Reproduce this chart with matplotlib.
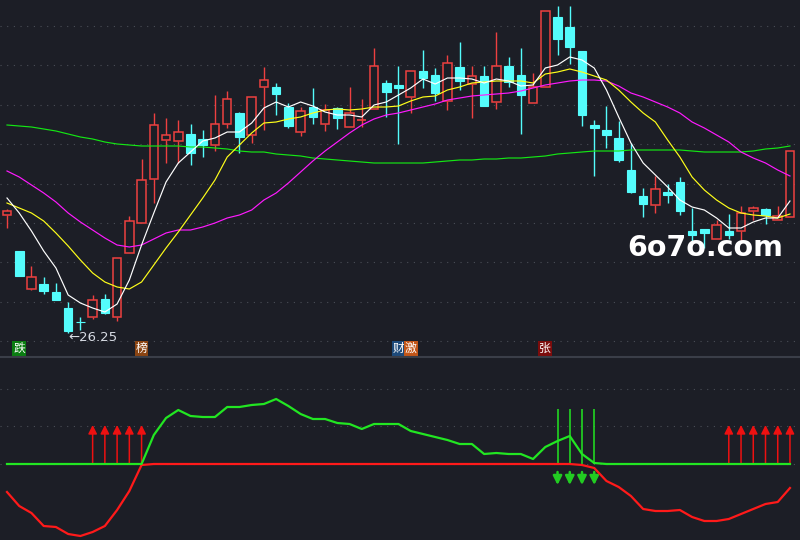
import matplotlib.pyplot as plt
import numpy as np
from matplotlib.patches import Rectangle
from matplotlib.transforms import blended_transform_factory

plt.rcParams['font.family'] = ['Noto Sans CJK SC', 'DejaVu Sans']

BG = '#1c1e26'
UP = '#ee4040'
DOWN = '#54fcfc'
GRID = '#4a4e57'

# daily K-line data (65 sessions)
opens = [32.15, 30.35, 28.45, 28.70, 28.30, 27.50, 26.82, 27.05, 27.95, 27.05,
         30.25, 31.75, 33.95, 35.90, 35.85, 36.20, 35.95, 35.65, 36.70, 37.25,
         36.15, 38.55, 38.55, 37.55, 36.30, 37.55, 36.70, 37.50, 36.55, 36.90,
         37.45, 38.75, 38.65, 38.05, 39.35, 39.15, 37.85, 39.55, 38.70, 39.10,
         37.80, 39.60, 39.15, 37.75, 38.55, 42.05, 41.55, 40.35, 36.65, 36.40,
         36.00, 34.40, 33.10, 32.65, 33.30, 33.80, 31.35, 31.45, 30.95, 31.35,
         31.35, 32.35, 32.45, 31.90, 32.05]
closes = [32.35, 29.10, 29.05, 28.35, 27.90, 26.35, 26.80, 27.90, 27.25, 30.00,
          31.85, 33.90, 36.65, 36.15, 36.30, 35.25, 35.65, 36.70, 37.95, 36.05,
          38.05, 38.90, 38.20, 36.60, 37.35, 37.05, 37.40, 37.00, 37.25, 36.90,
          39.60, 38.30, 38.50, 39.35, 39.00, 38.25, 39.75, 38.85, 39.10, 37.60,
          39.60, 38.80, 38.15, 38.55, 42.35, 40.95, 40.55, 37.15, 36.50, 36.15,
          34.90, 33.30, 32.70, 33.45, 33.15, 32.35, 31.15, 31.25, 31.65, 31.15,
          32.25, 32.50, 32.15, 32.10, 35.35]
highs = [32.45, 30.35, 29.60, 29.05, 28.75, 27.80, 27.05, 28.15, 28.20, 30.00,
         32.10, 34.95, 37.25, 37.00, 36.90, 36.70, 36.40, 38.15, 38.35, 37.30,
         38.05, 39.55, 38.75, 37.75, 37.55, 38.50, 37.70, 37.55, 38.55, 37.95,
         40.50, 38.90, 39.60, 39.35, 40.40, 39.50, 40.15, 40.80, 39.60, 39.60,
         41.30, 40.05, 40.50, 39.25, 42.35, 42.60, 42.60, 40.35, 36.90, 37.60,
         36.85, 35.75, 33.50, 34.10, 33.70, 34.05, 32.50, 31.45, 31.90, 32.20,
         32.60, 32.60, 32.50, 32.60, 35.35]
lows = [31.50, 29.10, 28.40, 28.20, 27.90, 26.25, 26.40, 26.95, 27.20, 26.85,
        30.25, 31.75, 32.75, 34.75, 34.75, 34.65, 35.05, 35.35, 36.50, 35.25,
        35.75, 36.40, 37.15, 36.50, 36.10, 36.70, 36.35, 36.45, 36.55, 36.55,
        37.45, 37.05, 35.70, 37.25, 38.50, 37.85, 37.40, 38.40, 37.00, 37.60,
        37.45, 38.55, 36.20, 37.75, 38.55, 40.15, 39.70, 36.60, 34.10, 35.50,
        34.80, 33.25, 32.05, 32.25, 32.75, 32.15, 30.75, 30.50, 30.95, 30.95,
        30.75, 31.90, 31.70, 31.90, 32.05]

# moving averages as shown on the chart
ma_white = [33.00, 32.25, 31.35, 30.35, 29.50, 28.15, 27.75, 27.50, 27.30, 27.70,
            28.90, 30.65, 32.25, 33.80, 34.75, 35.30, 35.85, 36.00, 36.30, 36.30,
            36.75, 37.50, 37.80, 37.55, 37.80, 37.60, 37.30, 37.15, 37.15, 37.05,
            37.65, 37.80, 38.15, 38.50, 38.95, 38.70, 39.00, 39.00, 38.95, 38.75,
            38.95, 38.85, 38.60, 38.65, 39.50, 39.65, 40.05, 39.90, 39.50, 38.40,
            37.05, 35.75, 34.75, 34.15, 33.55, 32.90, 32.55, 32.40, 32.00, 31.50,
            31.50, 31.80, 32.00, 32.00, 32.85]
ma_yellow = [32.75, 32.50, 32.25, 31.85, 31.25, 30.60, 29.90, 29.25, 28.80, 28.55,
             28.45, 28.80, 29.65, 30.50, 31.30, 32.15, 33.00, 33.90, 35.05, 35.65,
             36.25, 36.75, 36.80, 36.95, 37.05, 37.25, 37.40, 37.45, 37.40, 37.45,
             37.55, 37.55, 37.60, 37.85, 38.05, 38.10, 38.40, 38.55, 38.75, 38.80,
             38.85, 38.85, 38.85, 38.75, 39.20, 39.30, 39.45, 39.30, 39.10, 38.90,
             38.40, 37.80, 37.25, 36.80, 35.90, 35.05, 34.05, 33.40, 32.90, 32.50,
             32.25, 32.15, 32.10, 32.00, 32.20]
ma_magenta = [34.35, 34.05, 33.65, 33.25, 32.80, 32.25, 31.80, 31.40, 31.00, 30.65,
              30.55, 30.65, 30.95, 31.25, 31.40, 31.40, 31.55, 31.75, 32.00, 32.15,
              32.40, 32.90, 33.25, 33.75, 34.30, 34.85, 35.35, 35.80, 36.25, 36.65,
              36.95, 37.15, 37.25, 37.40, 37.55, 37.70, 37.90, 38.00, 38.10, 38.15,
              38.20, 38.25, 38.35, 38.50, 38.65, 38.75, 38.85, 38.90, 38.90, 38.85,
              38.60, 38.25, 38.05, 37.80, 37.55, 37.25, 36.80, 36.50, 36.15, 35.80,
              35.30, 35.00, 34.75, 34.40, 34.10]
ma_green = [36.65, 36.60, 36.55, 36.45, 36.35, 36.20, 36.05, 35.95, 35.80, 35.70,
            35.65, 35.60, 35.60, 35.60, 35.60, 35.55, 35.55, 35.50, 35.45, 35.35,
            35.30, 35.30, 35.20, 35.15, 35.10, 35.00, 34.95, 34.90, 34.85, 34.80,
            34.75, 34.75, 34.75, 34.75, 34.75, 34.80, 34.85, 34.90, 34.90, 34.95,
            34.95, 35.00, 35.00, 35.05, 35.10, 35.20, 35.25, 35.30, 35.35, 35.35,
            35.35, 35.40, 35.40, 35.40, 35.40, 35.40, 35.35, 35.30, 35.30, 35.30,
            35.30, 35.35, 35.45, 35.50, 35.60]

# lower indicator
osc_green = [0, 0, 0, 0, 0, 0, 0, 0, 0, 0,
             0, 0, 14.5, 23, 27, 24, 23.5, 23.5, 28.5, 28.5,
             29.5, 30, 32.5, 29, 25, 22.5, 22.5, 20.5, 20, 17.5,
             20, 20, 20, 16.5, 15, 13.5, 12, 10, 10, 5,
             5.5, 5, 5, 2.5, 8.5, 11.5, 14, 5, 0.5, 0,
             0, 0, 0, 0, 0, 0, 0, 0, 0, 0,
             0, 0, 0, 0, 0]
osc_red = [-14, -21, -24.5, -31, -31.5, -35, -36, -34, -31, -23,
           -13.5, -0.5, 0, 0, 0, 0, 0, 0, 0, 0,
           0, 0, 0, 0, 0, 0, 0, 0, 0, 0,
           0, 0, 0, 0, 0, 0, 0, 0, 0, 0,
           0, 0, 0, 0, 0, 0, 0, -0.5, -2, -8.5,
           -11.5, -16, -22.5, -23.5, -23.5, -23, -26.5, -28.5, -28.5, -27.5,
           -25, -22.5, -20, -19, -12]
buy_days = [7, 8, 9, 10, 11, 59, 60, 61, 62, 63, 64]
sell_days = [45, 46, 47, 48]
sell_line_top = 27.5
buy_arrow_top = 19.5

tags = [(1, '跌', '#0b7d12'), (11, '榜', '#8a4412'), (32, '财', '#1d4a7a'),
        (33, '激', '#c25618'), (44, '张', '#7c0c0c')]
low_day = 5
price_grid = [41.60, 39.65, 37.65, 35.70, 33.70, 31.75, 29.80, 27.80, 25.85]
osc_grid = [0, 19, 37.5]

n = len(opens)
x = np.arange(n)
w = 0.7

fig = plt.figure(figsize=(8, 5.4), dpi=100, facecolor=BG)
ax1 = fig.add_axes([0, 184 / 540, 1, 356 / 540])
ax2 = fig.add_axes([0, 0, 1, 183 / 540])

for ax in (ax1, ax2):
    ax.set_facecolor(BG)
    ax.set_xticks([])
    ax.set_yticks([])
    for s in ax.spines.values():
        s.set_visible(False)
    ax.set_xlim(-0.572, 64.82)

ax2.spines['top'].set_visible(True)
ax2.spines['top'].set_color('#3a3e48')
ax2.spines['top'].set_linewidth(1.5)

ax1.set_ylim(25.10, 42.90)
ax2.set_ylim(-38, 53.5)

for g in price_grid:
    ax1.axhline(g, color=GRID, lw=0.8, ls=(0, (1, 5)), zorder=0)
for g in osc_grid:
    ax2.axhline(g, color=GRID, lw=0.8, ls=(0, (1, 5)), zorder=0)

# candles
for i in range(n):
    o, h, l, c = opens[i], highs[i], lows[i], closes[i]
    if c >= o:
        ax1.vlines(i, max(o, c), h, color=UP, lw=1, zorder=2)
        ax1.vlines(i, l, min(o, c), color=UP, lw=1, zorder=2)
        if c - o < 0.03:
            ax1.hlines(o, i - w / 2, i + w / 2, color=UP, lw=1.2, zorder=3)
        else:
            ax1.add_patch(Rectangle((i - w / 2, o), w, c - o, facecolor=BG,
                                    edgecolor=UP, lw=1.1, zorder=3))
    else:
        ax1.vlines(i, l, h, color=DOWN, lw=1, zorder=2)
        ax1.add_patch(Rectangle((i - w / 2, c), w, o - c, facecolor=DOWN,
                                edgecolor=DOWN, lw=0.8, zorder=3))

ax1.plot(x, ma_green, color='#14e614', lw=0.85, zorder=4)
ax1.plot(x, ma_magenta, color='#ff1aff', lw=0.85, zorder=4)
ax1.plot(x, ma_yellow, color='#ffff1a', lw=0.85, zorder=4)
ax1.plot(x, ma_white, color='#ffffff', lw=0.85, zorder=4)

ax1.text(low_day, lows[low_day] - 0.22, '\u2190' + f'{lows[low_day]:.2f}',
         color='#d8dce4', fontsize=9.5, ha='left', va='center',
         family='DejaVu Sans', zorder=5)

tr = blended_transform_factory(ax1.transData, ax1.transAxes)
for day, ch, col in tags:
    ax1.text(day, 0.021, ch, transform=tr, color='white', fontsize=8.5,
             ha='center', va='center', zorder=5,
             bbox=dict(boxstyle='square,pad=0.08', facecolor=col, edgecolor='none'))

# indicator panel
ax2.plot(x, osc_red, color='#ff1a1a', lw=1.6, zorder=3)
ax2.plot(x, osc_green, color='#22e622', lw=1.6, zorder=3)

for d in buy_days:
    ax2.annotate('', xy=(d, buy_arrow_top), xytext=(d, 0),
                 arrowprops=dict(arrowstyle='-|>', color='#ee1111', lw=1.1,
                                 mutation_scale=13, shrinkA=0, shrinkB=0),
                 zorder=2)
ax2.vlines(sell_days, 0, sell_line_top, color='#22e622', lw=1.1, zorder=2)
for d in sell_days:
    ax2.annotate('', xy=(d, -10.5), xytext=(d, -4),
                 arrowprops=dict(arrowstyle='-|>', color='#22cc22', lw=1.8,
                                 mutation_scale=13, shrinkA=0, shrinkB=0),
                 zorder=2)

fig.text(705 / 800, 1 - 248 / 540, '6o7o.com', color='white', fontsize=20.5,
         weight='bold', family='DejaVu Sans', ha='center', va='center')

fig.savefig('out.png', dpi=100, facecolor=BG)
